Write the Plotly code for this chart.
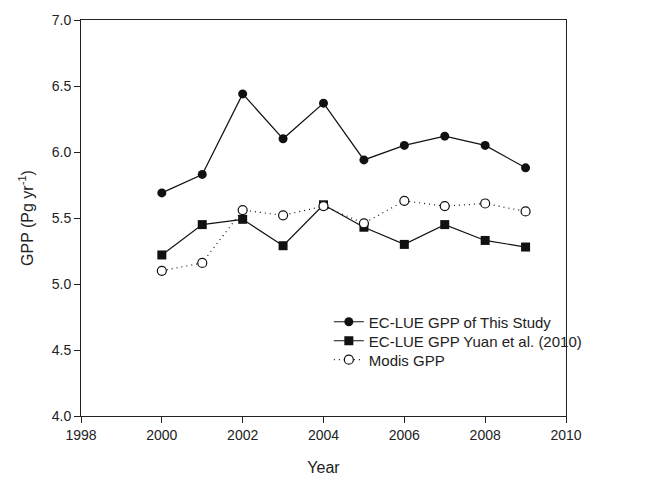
import plotly.graph_objects as go

years = [2000, 2001, 2002, 2003, 2004, 2005, 2006, 2007, 2008, 2009]
gpp_this_study = [5.69, 5.83, 6.44, 6.10, 6.37, 5.94, 6.05, 6.12, 6.05, 5.88]
gpp_yuan2010 = [5.22, 5.45, 5.49, 5.29, 5.60, 5.43, 5.30, 5.45, 5.33, 5.28]
gpp_modis = [5.10, 5.16, 5.56, 5.52, 5.59, 5.46, 5.63, 5.59, 5.61, 5.55]

names = ["EC-LUE GPP of This Study", "EC-LUE GPP Yuan et al. (2010)", "Modis GPP"]
x_ticks = [1998, 2000, 2002, 2004, 2006, 2008, 2010]
y_ticks = [4.0, 4.5, 5.0, 5.5, 6.0, 6.5, 7.0]

FONT = "Liberation Sans, Arial, sans-serif"
TXT = "#222222"
INK = "#111111"

fig = go.Figure()
fig.add_trace(go.Scatter(
    x=years, y=gpp_this_study, name=names[0], mode="lines+markers",
    line=dict(color=INK, width=1.2),
    marker=dict(symbol="circle", size=9, color=INK),
    legend="legend",
))
fig.add_trace(go.Scatter(
    x=years, y=gpp_yuan2010, name=names[1], mode="lines+markers",
    line=dict(color=INK, width=1.2),
    marker=dict(symbol="square", size=9, color=INK),
    legend="legend2",
))
fig.add_trace(go.Scatter(
    x=years, y=gpp_modis, name=names[2], mode="lines+markers",
    line=dict(color=INK, width=1.2, dash="1px,4px"),
    marker=dict(symbol="circle", size=9, color="white", line=dict(width=1.2, color=INK)),
    legend="legend3",
))

def leg(yc):
    return dict(
        x=0.511, y=yc, xanchor="left", yanchor="middle",
        bgcolor="rgba(0,0,0,0)", borderwidth=0,
        font=dict(family=FONT, size=15, color=TXT),
    )

fig.update_layout(
    width=651, height=479,
    margin=dict(l=81, r=85, t=20, b=63),
    paper_bgcolor="white", plot_bgcolor="white",
    font=dict(family=FONT, size=14, color=TXT),
    showlegend=True,
    legend=leg(0.2374),
    legend2=leg(0.1894),
    legend3=leg(0.1415),
)
fig.update_xaxes(
    range=[1998, 2010], tickvals=x_ticks, ticktext=[str(v) for v in x_ticks],
    showgrid=False, zeroline=False, automargin=False,
    showline=True, linecolor="#222222", linewidth=1, mirror=True,
    ticks="outside", ticklen=6, tickcolor="#222222", tickwidth=1,
    tickfont=dict(family=FONT, size=14, color=TXT),
    title=dict(text="Year", font=dict(family=FONT, size=16, color=TXT), standoff=20),
)
fig.update_yaxes(
    range=[4.0, 7.0], tickvals=y_ticks, ticktext=[f"{v:.1f}" for v in y_ticks],
    showgrid=False, zeroline=False, automargin=False,
    showline=True, linecolor="#222222", linewidth=1, mirror=True,
    ticks="outside", ticklen=6, tickcolor="#222222", tickwidth=1,
    tickfont=dict(family=FONT, size=14, color=TXT),
    title=dict(text="GPP (Pg yr<sup>-1</sup>)", font=dict(family=FONT, size=16, color=TXT), standoff=14),
)

fig.write_html("out.html")
